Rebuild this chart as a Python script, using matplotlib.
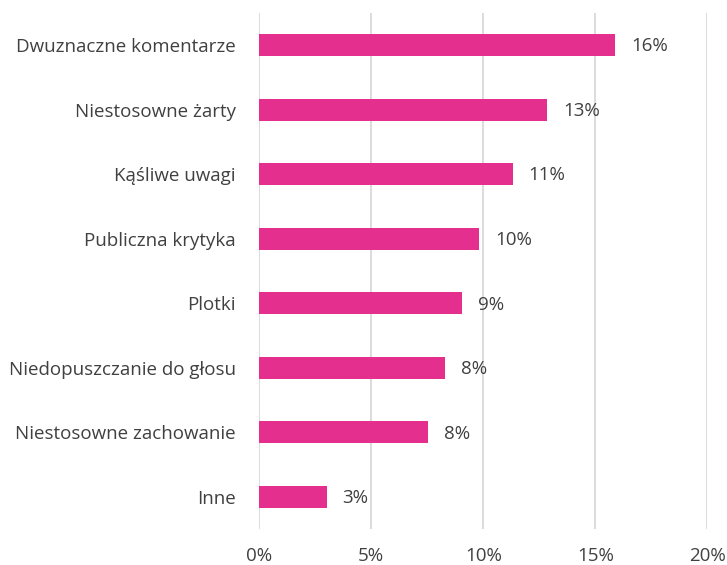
import matplotlib
matplotlib.use("Agg")
import matplotlib.pyplot as plt
from matplotlib.ticker import FuncFormatter

# data (share of answers, %)
categories = ["Dwuznaczne komentarze", "Niestosowne żarty", "Kąśliwe uwagi",
              "Publiczna krytyka", "Plotki", "Niedopuszczanie do głosu",
              "Niestosowne zachowanie", "Inne"]
values = [15.9, 12.86, 11.33, 9.82, 9.06, 8.3, 7.53, 3.0]
value_labels = ["16%", "13%", "11%", "10%", "9%", "8%", "8%", "3%"]
xticks = [0, 5, 10, 15, 20]

plt.rcParams['font.family'] = ['Open Sans', 'DejaVu Sans']
txt = '#404040'
fs = 13.5

fig = plt.figure(figsize=(7.27, 5.65), dpi=100)
ax = fig.add_axes([0.3567, 0.0632, 0.6161, 0.9143])

y = list(range(len(categories)))[::-1]
ax.barh(y, values, height=0.34, color='#E42F8E', zorder=3)

for yi, v, lab in zip(y, values, value_labels):
    ax.text(v + 0.7, yi - 0.02, lab, va='center', ha='left', fontsize=fs, color=txt)

ax.set_yticks(y)
ax.set_yticklabels(categories, fontsize=fs, color=txt)
ax.set_ylim(-0.5, len(categories) - 0.5)
ax.set_xlim(0, 20)
ax.set_xticks(xticks)
ax.xaxis.set_major_formatter(FuncFormatter(lambda x, p: '{:.0f}%'.format(x)))
ax.tick_params(axis='x', labelsize=fs, colors=txt, length=0, pad=13)
ax.tick_params(axis='y', length=0, pad=17)
ax.grid(axis='x', color='#D9D9D9', linewidth=1.3, zorder=0)
for s in ax.spines.values():
    s.set_visible(False)

fig.savefig('out.png', dpi=100)
